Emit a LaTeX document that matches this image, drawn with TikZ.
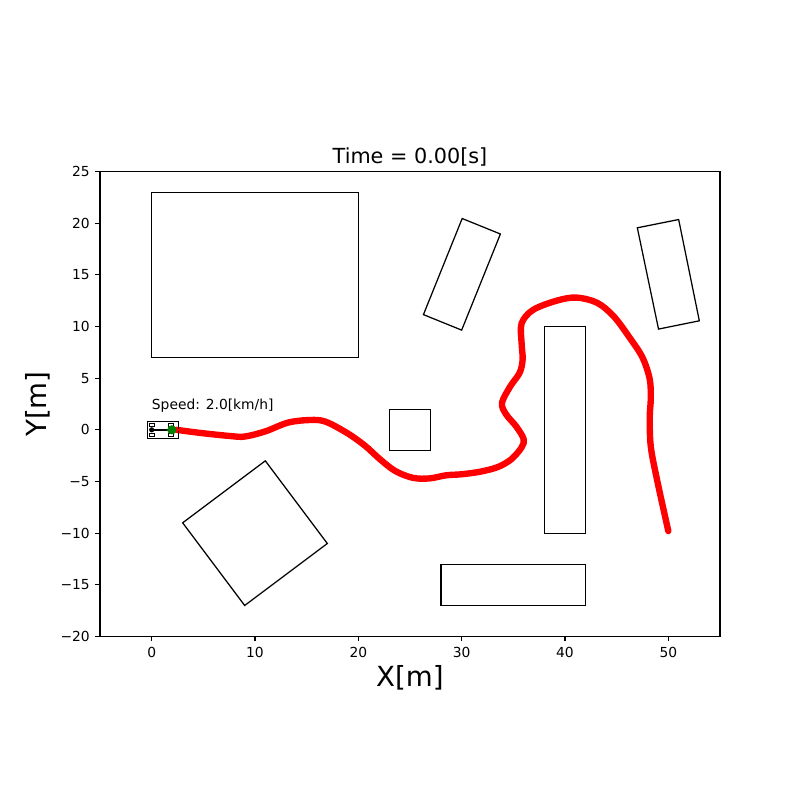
\documentclass[tikz,border=0pt]{standalone}
\usepackage{fontspec}
\setmainfont{DejaVu Sans}
\definecolor{verdeauto}{rgb}{0,0.5,0}
\begin{document}
\begin{tikzpicture}[x=0.26247cm,y=0.26247cm,
    ostacolo/.style={draw=black,line width=0.9pt,line join=miter},
    percorso/.style={red,line width=4.6pt,line cap=round,line join=round},
    tacca/.style={line width=0.8pt},
    numero/.style={font=\fontsize{10}{12}\selectfont,inner sep=0pt}]
    \useasboundingbox (-14.677,-35.823) rectangle (62.742,41.597);
    %disegno assi
    \draw[tacca] (-5,-20) rectangle (55,25);
    \foreach \x in {0,10,...,50}
        \draw[tacca] (\x,-20) --++ (0,-3.5pt) node[numero,below=3.5pt]{\x};
    \foreach \y/\t in {-20/−20,-15/−15,-10/−10,-5/−5,0/0,5/5,10/10,15/15,20/20,25/25}
        \draw[tacca] (-5,\y) --++ (-3.5pt,0) node[numero,left=3.5pt]{\t};
    %titolo ed etichette
    \node (titolo) at (25,25) [above=0.5pt,font=\fontsize{15}{18}\selectfont]{Time = 0.00[s]};
    \node (asseX) at (25,-23.97) [font=\fontsize{20}{24}\selectfont]{X[m]};
    \node (asseY) at (-11,2.5) [rotate=90,font=\fontsize{20}{24}\selectfont]{Y[m]};
    %disegno ostacoli
    \draw[ostacolo] (0,7) rectangle (20,23);
    \draw[ostacolo] (23,-2) rectangle (27,2);
    \draw[ostacolo] (38,-10) rectangle (42,10);
    \draw[ostacolo] (28,-17) rectangle (42,-13);
    \draw[ostacolo] (3,-9) -- (11,-3) -- (17,-11) -- (9,-17) -- cycle;
    \draw[ostacolo] (30,9.65) -- (33.75,18.95) -- (30.05,20.45) -- (26.3,11.15) -- cycle;
    \draw[ostacolo] (47,19.55) -- (51,20.35) -- (53,10.55) -- (49.05,9.75) -- cycle;
    %traiettoria
    \draw[percorso] plot[smooth,tension=0.55] coordinates {(2.4,0) (4.7,-0.3) (7.6,-0.6)
        (9,-0.65) (11,-0.15) (13.2,0.7) (15.3,0.95) (16.8,0.8) (18.9,-0.3)
        (20.6,-1.5) (22.1,-2.85) (23.6,-4.0) (25.3,-4.65) (26.9,-4.7) (28.5,-4.4)
        (30,-4.3) (31.8,-4.05) (33.5,-3.6) (34.8,-2.85) (35.8,-1.7) (36,-0.9)
        (35.3,0.3) (34.3,1.5) (33.9,2.6) (34.7,4.2) (35.6,5.5) (35.9,6.8) (35.8,8.4)
        (35.8,10.3) (36.9,11.6) (39.2,12.5) (41.1,12.8) (43.1,12.3) (44.7,11)
        (46.2,9) (47.5,7) (48.2,4.9) (48.3,3) (48.2,1.2) (48.3,-1.6) (48.9,-4.8)
        (50,-9.8)};
    %disegno auto
    \draw[line width=0.6pt] (-0.45,-0.8) rectangle (2.6,0.8);
    \foreach \px in {-0.2,1.6}
        \foreach \py in {0.35,-0.62}
            \draw[line width=0.4pt] (\px,\py) rectangle ++(0.5,0.28);
    \draw[red,line width=1pt] (0,0) -- (2.6,0);
    \draw[line width=1pt] (0,0) -- (1.9,0);
    \fill (0,0) circle (0.25);
    \fill[verdeauto] (1.95,0) circle (0.45);
    \node (velocita) at (0,2) [anchor=base west,inner sep=0pt,font=\fontsize{10}{12}\selectfont]{Speed: 2.0[km/h]};
\end{tikzpicture}
\end{document}
